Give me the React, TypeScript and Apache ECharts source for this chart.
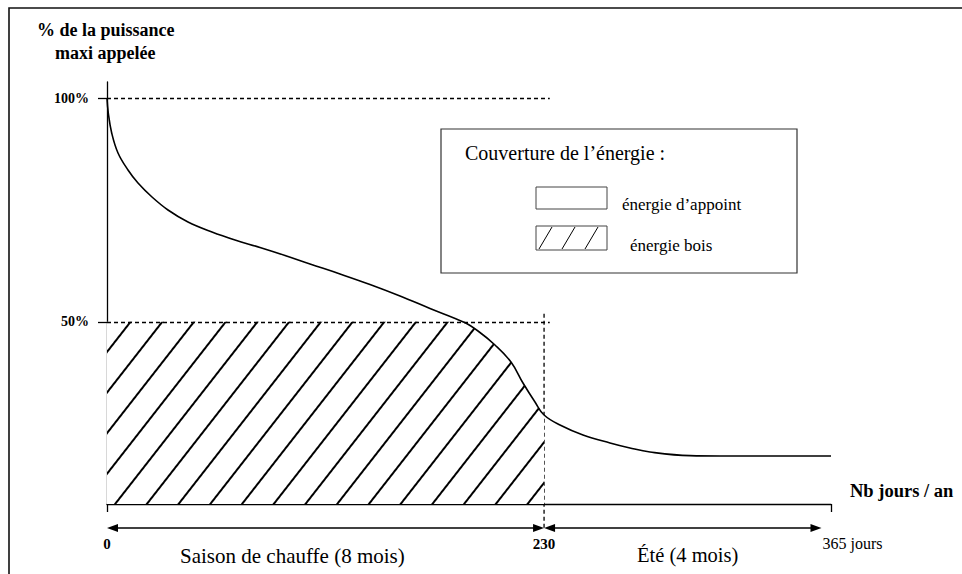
import React, { useEffect, useRef } from 'react';
import * as echarts from 'echarts';

// Load duration curve (schematic): days of the year vs % of peak power
const DAYS = [0, 0.68, 2.47, 5.79, 11.05, 16.31, 23.68, 32.1, 42.62, 55.25, 67.36, 80.51, 93.67, 106.83, 122.61, 138.4, 154.19, 169.97, 187.86, 195.23, 204.18, 212.6, 218.91, 225.23, 230, 238.38, 250.49, 264.7, 275.2, 285.75, 306.8, 322.58, 381];
const POWER = [100, 96.67, 92.21, 87.74, 83.94, 81.03, 77.9, 75.0, 72.32, 70.08, 68.29, 66.62, 64.83, 62.93, 60.7, 58.35, 55.78, 52.99, 49.9, 47.96, 44.83, 41.03, 36.34, 32.09, 29.19, 26.95, 24.72, 22.93, 21.81, 20.92, 20.1, 20.03, 20.03];

const SEASON_END = 230;      // end of heating season (days)
const WOOD_LEVEL = 50;       // wood boiler covers up to 50 % of peak
const X_TICKS = [0, 230];
const Y_TICKS = [50, 100];
const END_LABEL = '365 jours';
const END_ARROW_DAY = 376;   // drawn position of "365 jours" on the schematic axis
const X_MAX = 381;
const Y_MIN = 9.3;
const Y_MAX = 103.6;
const DASH_END_DAY = 233;

const SERIF = "Liberation Serif, 'DejaVu Serif', Tinos, 'Times New Roman', Times, serif";

export default function App() {
  const ref = useRef<HTMLDivElement>(null);

  useEffect(() => {
    if (!ref.current) return;
    const chart = echarts.init(ref.current, undefined, { renderer: 'svg' });

    const curve = DAYS.map((d, i) => [d, POWER[i]]);
    const wood = DAYS.map((d, i) => [d, Math.min(POWER[i], WOOD_LEVEL)]).filter((p) => p[0] <= SEASON_END);

    chart.setOption({
      animation: false,
      backgroundColor: '#fff',
      textStyle: { fontFamily: SERIF },
      grid: { left: 107, right: 131, top: 82, bottom: 70, containLabel: false },
      xAxis: {
        type: 'value',
        min: 0,
        max: X_MAX,
        splitLine: { show: false },
        axisLine: { show: true, lineStyle: { color: '#000', width: 1.3 } },
        axisTick: { show: true, customValues: [0, X_MAX], length: 8, lineStyle: { color: '#000', width: 1.3 } },
        axisLabel: {
          show: true,
          customValues: X_TICKS,
          margin: 32,
          color: '#000',
          fontFamily: SERIF,
          fontWeight: 'bold',
          fontSize: 15,
          formatter: (v: number) => String(v),
        },
      },
      yAxis: {
        type: 'value',
        min: Y_MIN,
        max: Y_MAX,
        splitLine: { show: false },
        axisLine: { show: true, lineStyle: { color: '#000', width: 1.3 } },
        axisTick: { show: true, customValues: Y_TICKS, length: 9, lineStyle: { color: '#000', width: 1.3 } },
        axisLabel: {
          show: true,
          customValues: Y_TICKS,
          margin: 18,
          color: '#000',
          fontFamily: SERIF,
          fontWeight: 'bold',
          fontSize: 14,
          formatter: (v: number) => v + '%',
        },
      },
      series: [
        {
          name: 'énergie bois',
          type: 'line',
          data: wood,
          showSymbol: false,
          smooth: 0.4,
          lineStyle: { width: 0, opacity: 0 },
          itemStyle: {
            color: '#000',
            decal: {
              symbol: 'rect',
              symbolSize: 1,
              color: '#000',
              backgroundColor: '#fff',
              dashArrayX: [1, 0],
              dashArrayY: [1.1, 23],
              rotation: (-52 * Math.PI) / 180,
            },
          },
          areaStyle: { color: '#fff', opacity: 1 },
          silent: true,
          z: 1,
        },
        {
          name: 'courbe',
          type: 'line',
          data: curve,
          showSymbol: false,
          smooth: 0.4,
          lineStyle: { color: '#000', width: 1.6 },
          silent: true,
          z: 3,
          markLine: {
            silent: true,
            symbol: ['none', 'none'],
            label: { show: false },
            lineStyle: { color: '#000', width: 1.3, type: [4, 3] },
            data: [
              [{ coord: [0, 100] }, { coord: [DASH_END_DAY, 100] }],
              [{ coord: [0, WOOD_LEVEL] }, { coord: [DASH_END_DAY, WOOD_LEVEL] }],
            ],
          },
        },
      ],
    });

    const px = (d: number, v: number) => chart.convertToPixel({ gridIndex: 0 }, [d, v]) as number[];
    const [x0, axisY] = px(0, Y_MIN);
    const [xS] = px(SEASON_END, Y_MIN);
    const [xE] = px(END_ARROW_DAY, Y_MIN);
    const [, yTopDash] = px(SEASON_END, WOOD_LEVEL + 1.8);
    const ay = axisY + 24;
    const ah = 11;
    const aw = 4;

    const txt = (text: string, x: number, y: number, size: number, bold = false) => ({
      type: 'text',
      silent: true,
      style: {
        text,
        x,
        y,
        fontFamily: SERIF,
        fontSize: size,
        fontWeight: bold ? 'bold' : 'normal',
        fill: '#000',
        align: 'left',
        verticalAlign: 'middle',
        textAlign: 'left',
        textVerticalAlign: 'middle',
      },
    });
    const tri = (pts: number[][]) => ({ type: 'polygon', silent: true, shape: { points: pts }, style: { fill: '#000' } });
    const seg = (x1: number, y1: number, x2: number, y2: number, w = 1.3, dash?: number[]) => ({
      type: 'line',
      silent: true,
      shape: { x1, y1, x2, y2 },
      style: { stroke: '#000', lineWidth: w, lineDash: dash },
    });

    chart.setOption({
      graphic: [
        // outer frame
        { type: 'rect', silent: true, z: -1, shape: { x: 9, y: 8, width: 1000, height: 600 }, style: { fill: 'none', stroke: '#111', lineWidth: 1.6 } },
        // axis titles
        txt('% de la puissance', 37, 30, 18, true),
        txt('maxi appelée', 55, 53, 18, true),
        txt('Nb jours / an', 850, 491, 18.5, true),
        // vertical dashed line at end of heating season
        seg(xS, yTopDash, xS, ay + 2, 1.3, [4, 3]),
        // arrows
        seg(x0 + 6, ay, xS - 6, ay, 1.3),
        seg(xS + 6, ay, xE - 6, ay, 1.3),
        tri([[x0, ay], [x0 + ah, ay - aw], [x0 + ah, ay + aw]]),
        tri([[xS, ay], [xS - ah, ay - aw], [xS - ah, ay + aw]]),
        tri([[xS, ay], [xS + ah, ay - aw], [xS + ah, ay + aw]]),
        tri([[xE, ay], [xE - ah, ay - aw], [xE - ah, ay + aw]]),
        txt(END_LABEL, xE + 1, ay + 15, 16),
        txt('Saison de chauffe (8 mois)', 180, 556, 21),
        txt('Été (4 mois)', 637, 555, 20.5),
        // legend box
        { type: 'rect', silent: true, shape: { x: 441, y: 129, width: 356, height: 144 }, style: { fill: '#fff', stroke: '#333', lineWidth: 1.2 } },
        txt('Couverture de l’énergie :', 465, 153, 20),
        { type: 'rect', silent: true, shape: { x: 536, y: 187, width: 71, height: 22 }, style: { fill: '#fff', stroke: '#444', lineWidth: 1 } },
        txt('énergie d’appoint', 622, 204, 17),
        { type: 'rect', silent: true, shape: { x: 536, y: 226, width: 71, height: 24 }, style: { fill: '#fff', stroke: '#444', lineWidth: 1 } },
        seg(539, 249, 552, 227, 1),
        seg(562, 249, 575, 227, 1),
        seg(585, 249, 598, 227, 1),
        txt('énergie bois', 630, 245, 17),
      ],
    });

    return () => chart.dispose();
  }, []);

  return (
    <div
      ref={ref}
      style={{ position: 'absolute', left: 0, top: 0, width: 962, height: 574, background: '#fff' }}
    />
  );
}
